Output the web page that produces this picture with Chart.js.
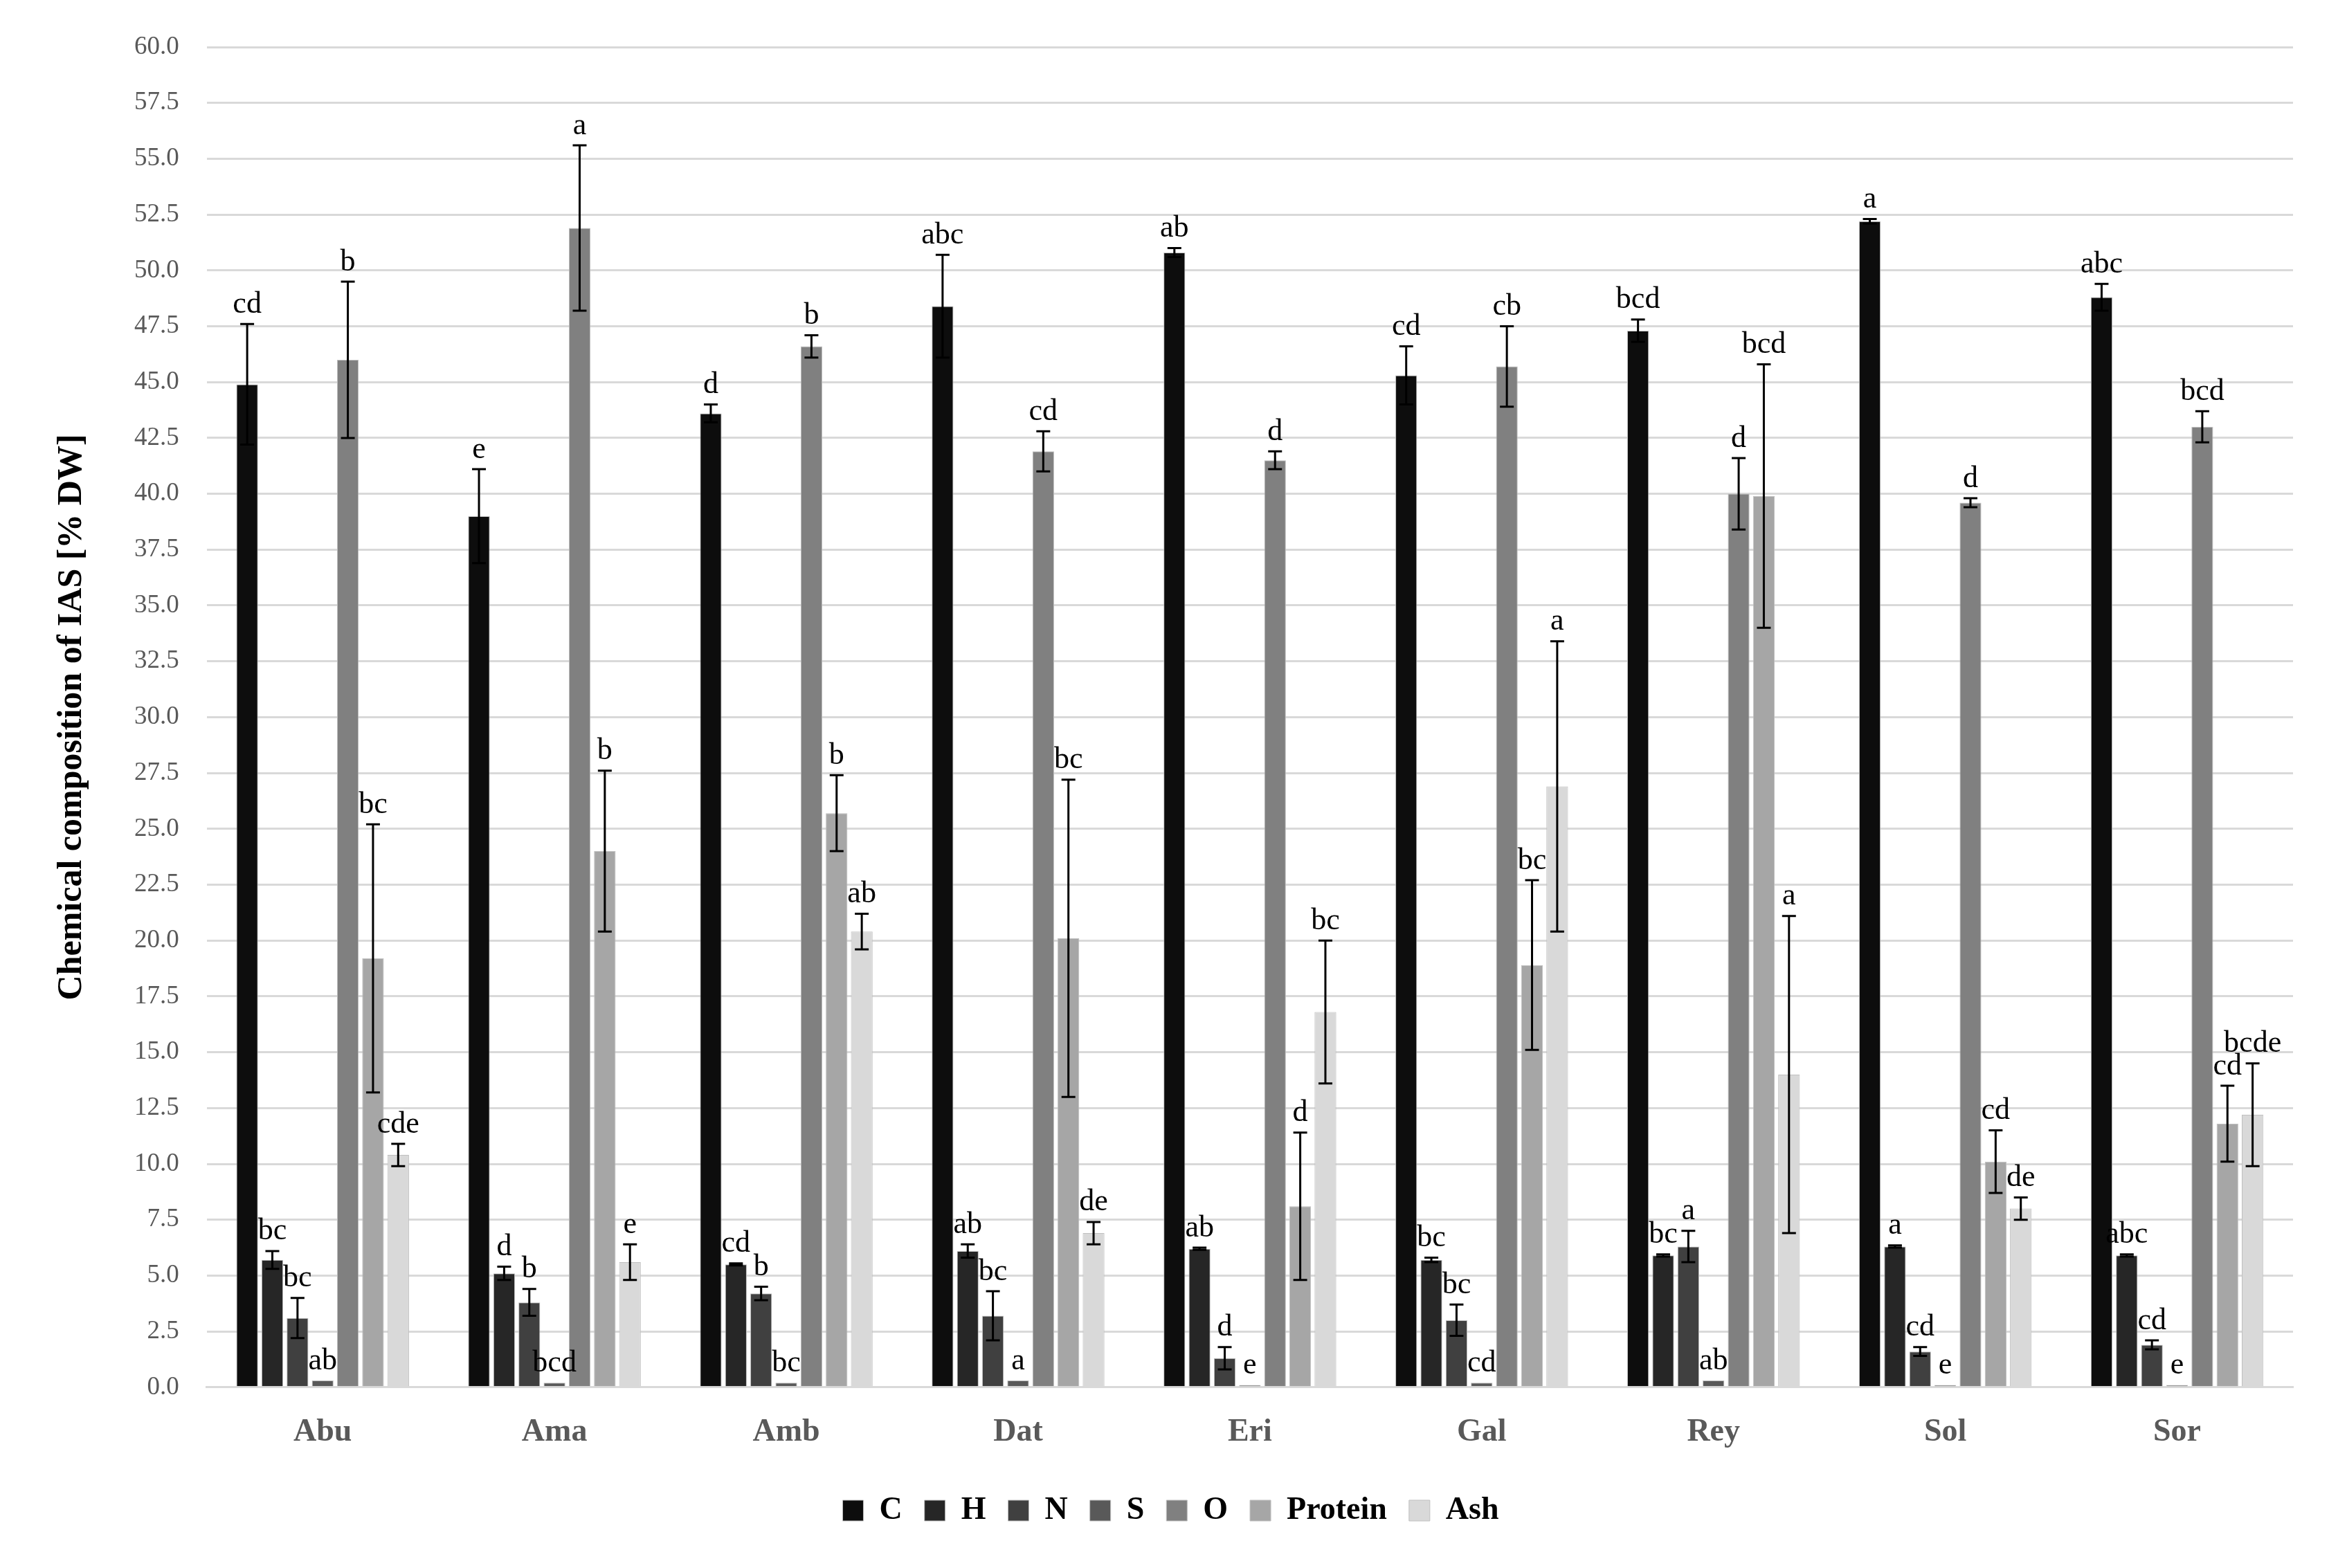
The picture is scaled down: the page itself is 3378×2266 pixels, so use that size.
<!DOCTYPE html>
<html>
<head>
<meta charset="utf-8">
<script src="https://cdn.jsdelivr.net/npm/chart.js@4"></script>
<style>
  html, body { margin: 0; padding: 0; background: #fff; }
  #wrap { width: 3378px; height: 2266px; }
</style>
</head>
<body>
<div id="wrap"><canvas id="chart" width="3378" height="2266"></canvas></div>
<script>
// samples on the x axis
const categories = ["Abu", "Ama", "Amb", "Dat", "Eri", "Gal", "Rey", "Sol", "Sor"];
const seriesNames = ["C", "H", "N", "S", "O", "Protein", "Ash"];
const seriesColors = ["#0d0d0d", "#262626", "#404040", "#595959", "#808080", "#a6a6a6", "#d9d9d9"];

// mean values, % DW
const cValues = [44.9, 39.0, 43.6, 48.4, 50.8, 45.3, 47.3, 52.2, 48.8];
const hValues = [5.7, 5.1, 5.5, 6.1, 6.2, 5.7, 5.9, 6.3, 5.9];
const nValues = [3.1, 3.8, 4.2, 3.2, 1.3, 3.0, 6.3, 1.6, 1.9];
const sValues = [0.3, 0.2, 0.2, 0.3, 0.1, 0.2, 0.3, 0.1, 0.1];
const oValues = [46.0, 51.9, 46.6, 41.9, 41.5, 45.7, 40.0, 39.6, 43.0];
const proteinValues = [19.2, 24.0, 25.7, 20.1, 8.1, 18.9, 39.9, 10.1, 11.8];
const ashValues = [10.4, 5.6, 20.4, 6.9, 16.8, 26.9, 14.0, 8.0, 12.2];

// standard deviations
const cErr = [2.7, 2.1, 0.4, 2.3, 0.2, 1.3, 0.5, 0.1, 0.6];
const hErr = [0.4, 0.3, 0.05, 0.3, 0.05, 0.1, 0.05, 0.05, 0.05];
const nErr = [0.9, 0.6, 0.3, 1.1, 0.5, 0.7, 0.7, 0.2, 0.2];
const sErr = [0, 0, 0, 0, 0, 0, 0, 0, 0];
const oErr = [3.5, 3.7, 0.5, 0.9, 0.4, 1.8, 1.6, 0.2, 0.7];
const proteinErr = [6.0, 3.6, 1.7, 7.1, 3.3, 3.8, 5.9, 1.4, 1.7];
const ashErr = [0.5, 0.8, 0.8, 0.5, 3.2, 6.5, 7.1, 0.5, 2.3];

// significance letters
const cLetters = ["cd", "e", "d", "abc", "ab", "cd", "bcd", "a", "abc"];
const hLetters = ["bc", "d", "cd", "ab", "ab", "bc", "bc", "a", "abc"];
const nLetters = ["bc", "b", "b", "bc", "d", "bc", "a", "cd", "cd"];
const sLetters = ["ab", "bcd", "bc", "a", "e", "cd", "ab", "e", "e"];
const oLetters = ["b", "a", "b", "cd", "d", "cb", "d", "d", "bcd"];
const proteinLetters = ["bc", "b", "b", "bc", "d", "bc", "bcd", "cd", "cd"];
const ashLetters = ["cde", "e", "ab", "de", "bc", "a", "a", "de", "bcde"];

const yTicksMax = 60;
const yTickStep = 2.5;

const allValues = [cValues, hValues, nValues, sValues, oValues, proteinValues, ashValues];
const allErr = [cErr, hErr, nErr, sErr, oErr, proteinErr, ashErr];
const allLetters = [cLetters, hLetters, nLetters, sLetters, oLetters, proteinLetters, ashLetters];

const serif = "'Liberation Serif', 'DejaVu Serif', serif";

const errorBars = {
  id: "errorBars",
  afterDatasetsDraw(chart) {
    const ctx = chart.ctx;
    const y = chart.scales.y;
    ctx.save();
    chart.data.datasets.forEach((ds, i) => {
      const meta = chart.getDatasetMeta(i);
      meta.data.forEach((bar, j) => {
        const v = allValues[i][j];
        const e = allErr[i][j];
        const x = bar.x;
        const top = y.getPixelForValue(v + e);
        if (e > 0) {
          const bot = y.getPixelForValue(v - e);
          ctx.strokeStyle = "#000";
          ctx.lineWidth = 3;
          ctx.beginPath();
          ctx.moveTo(x, top); ctx.lineTo(x, bot);
          ctx.moveTo(x - 10, top); ctx.lineTo(x + 10, top);
          ctx.moveTo(x - 10, bot); ctx.lineTo(x + 10, bot);
          ctx.stroke();
        }
        ctx.fillStyle = "#000";
        ctx.font = "44px " + serif;
        ctx.textAlign = "center";
        ctx.textBaseline = "bottom";
        ctx.fillText(allLetters[i][j], x, top - 6);
      });
    });
    ctx.restore();
  }
};

new Chart(document.getElementById("chart").getContext("2d"), {
  type: "bar",
  data: {
    labels: categories,
    datasets: seriesNames.map((name, i) => ({
      label: name,
      data: allValues[i],
      backgroundColor: seriesColors[i],
      borderColor: "#bfbfbf",
      borderWidth: 1,
      categoryPercentage: 0.76,
      barPercentage: 0.86,
    })),
  },
  options: {
    responsive: false,
    animation: false,
    devicePixelRatio: 1,
    layout: { padding: { left: 70, right: 65, top: 68, bottom: 50 } },
    plugins: {
      legend: {
        position: "bottom",
        labels: {
          font: { family: serif, size: 46, weight: "bold" },
          color: "#000",
          boxWidth: 30,
          boxHeight: 30,
          padding: 32,
        },
      },
      tooltip: { enabled: false },
    },
    scales: {
      x: {
        grid: { display: false },
        border: { color: "#d9d9d9", width: 3 },
        ticks: { font: { family: serif, size: 46, weight: "bold" }, color: "#595959", padding: 30 },
      },
      y: {
        min: 0,
        max: yTicksMax,
        grid: { color: "#d9d9d9", lineWidth: 3, drawTicks: false },
        border: { display: false },
        ticks: {
          stepSize: yTickStep,
          padding: 40,
          font: { family: serif, size: 37 },
          color: "#595959",
          callback: (v) => v.toFixed(1),
        },
        title: {
          display: true,
          text: "Chemical composition of IAS [% DW]",
          font: { family: serif, size: 50, weight: "bold" },
          color: "#000",
          padding: { bottom: 20 },
        },
      },
    },
  },
  plugins: [errorBars],
});
</script>
</body>
</html>
